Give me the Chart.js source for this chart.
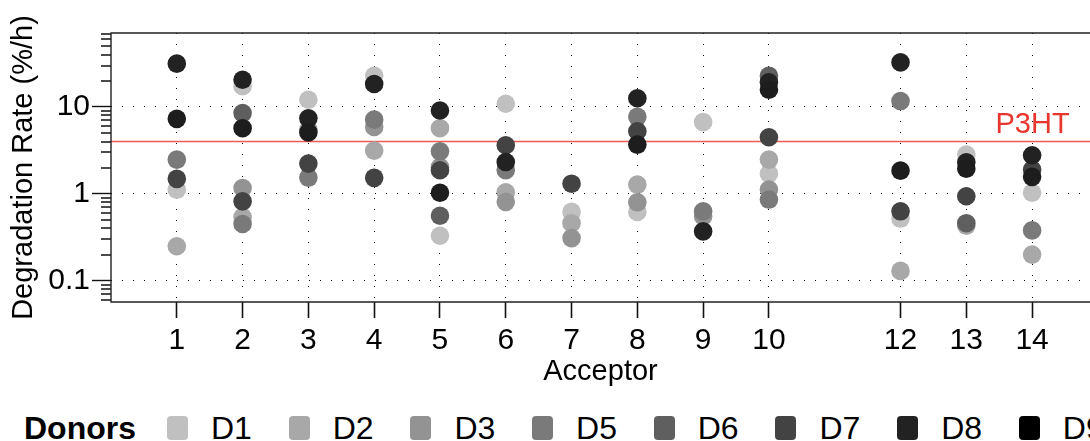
<!DOCTYPE html>
<html>
<head>
<meta charset="utf-8">
<script src="https://cdn.jsdelivr.net/npm/chart.js@4/dist/chart.umd.min.js"></script>
<style>
    html, body { margin: 0; padding: 0; background: #fff; overflow: hidden; }
    #wrap { position: relative; width: 1090px; height: 441px; overflow: hidden; }
    #chart-degradation { position: absolute; left: 0; top: 0; }
    #legend {
        position: absolute; left: 0; top: 410px; height: 36px; width: 1200px;
        font-family: 'Liberation Sans', Arial, sans-serif; font-size: 32px; color: #000;
        white-space: nowrap; display: flex; align-items: center;
    }
    #legend .legend-title { font-weight: 700; width: 167px; padding-left: 24px; box-sizing: border-box; }
    #legend .legend-item { width: 121.7px; display: flex; align-items: center; flex: none; }
    #legend .legend-item i { display: inline-block; width: 21px; height: 24px; border-radius: 4px; margin-right: 23px; }
</style>
</head>
<body>
<div id="wrap">
    <canvas id="chart-degradation" width="1090" height="395"></canvas>
    <div id="legend"></div>
</div>
<script>
/* ============================================================
   DATA — degradation rate (%/h) per acceptor, one array per donor
   null = combination not measured
   ============================================================ */
const ACCEPTORS = [1, 2, 3, 4, 5, 6, 7, 8, 9, 10, 12, 13, 14];
const DONORS = ['D1', 'D2', 'D3', 'D5', 'D6', 'D7', 'D8', 'D9'];

const RATE_D1 = [1.12, 17.3, 12.1, 22.9, 0.33, 10.9, 0.62, 0.62, 6.7, 1.71, 0.52, 2.83, 1.03];
const RATE_D2 = [0.25, 0.54, 5.5, 3.15, 5.7, 1.04, 0.46, 1.28, null, 2.48, 0.13, 0.43, 0.20];
const RATE_D3 = [null, 1.17, null, 5.9, 2.03, 0.81, 0.31, 0.80, 0.55, 1.12, null, null, null];
const RATE_D5 = [2.48, 0.45, 1.54, 7.15, 3.09, 1.87, null, 7.7, 0.63, 0.86, 11.7, null, 0.38];
const RATE_D6 = [null, 8.5, null, null, 0.56, null, null, null, null, 22.9, null, 0.46, null];
const RATE_D7 = [1.49, 0.82, 2.23, 1.53, 1.87, 3.63, 1.31, 5.25, null, 4.48, 0.63, 0.94, 1.90];
const RATE_D8 = [31.5, 20.6, 7.4, 18.4, 9.1, 2.33, null, 12.6, 0.37, 19.2, 32.6, 2.31, 2.78];
const RATE_D9 = [7.3, 5.7, 5.1, null, 1.03, null, null, 3.69, null, 15.8, 1.85, 1.95, 1.57];

const RATES = [RATE_D1, RATE_D2, RATE_D3, RATE_D5, RATE_D6, RATE_D7, RATE_D8, RATE_D9];

// reference polymer
const P3HT = 4.0;

// y axis: labelled decades + minor ticks
const Y_LABELS = [0.1, 1, 10];
const Y_MANTISSAS = [1, 2, 3, 4, 5, 6, 7, 8, 9];
const Y_DECADES = [0.01, 0.1, 1, 10];

/* ============================================================
   STYLE
   ============================================================ */
const SWATCH = ['#c0c0c0', '#a8a8a8', '#939393', '#7a7a7a', '#5f5f5f', '#434343', '#222222', '#000000'];
const POINT = ['#c0c0c0', '#a8a8a8', '#939393', '#7a7a7a', '#5f5f5f', '#434343', '#222222', '#1d1d1d'];
const RED_LINE = '#ef5b57';
const RED_TEXT = '#e8352e';
const FONT = "'Liberation Sans', Arial, sans-serif";

const X_MIN = 0, X_MAX = 14.88;
const Y_MIN = 0.057, Y_MAX = 71;

const isLabelled = v => Y_LABELS.some(l => Math.abs(v - l) < l * 1e-6);

/* ============================================================
   DATASETS
   ============================================================ */
const datasets = DONORS.map((name, i) => ({
    label: name,
    data: ACCEPTORS
        .map((a, j) => ({ x: a, y: RATES[i][j] }))
        .filter(p => p.y !== null),
    backgroundColor: POINT[i],
    borderWidth: 0,
    pointRadius: 9.3,
    pointHoverRadius: 9.3,
    order: 10 - i, // darker donors on top
}));

datasets.push({
    label: 'P3HT',
    data: [{ x: X_MIN, y: P3HT }, { x: X_MAX, y: P3HT }],
    showLine: true,
    borderColor: RED_LINE,
    borderWidth: 1.5,
    pointRadius: 0,
    order: 50,
});

/* ============================================================
   PLUGINS — frame round the plot + P3HT label
   ============================================================ */
const framePlugin = {
    id: 'frame',
    afterDraw(chart) {
        const { ctx, chartArea: a } = chart;
        ctx.save();
        ctx.strokeStyle = '#222';
        ctx.lineWidth = 1.4;
        ctx.beginPath();
        ctx.moveTo(a.right + 2, a.top);
        ctx.lineTo(a.left, a.top);
        ctx.lineTo(a.left, a.bottom);
        ctx.lineTo(a.right + 2, a.bottom);
        ctx.stroke();
        ctx.restore();
    }
};

const p3htLabel = {
    id: 'p3htLabel',
    afterDatasetsDraw(chart) {
        const { ctx, scales } = chart;
        ctx.save();
        ctx.fillStyle = RED_TEXT;
        ctx.font = `29px ${FONT}`;
        ctx.textAlign = 'right';
        ctx.textBaseline = 'alphabetic';
        ctx.fillText('P3HT', scales.x.getPixelForValue(14.57), scales.y.getPixelForValue(P3HT) - 9);
        ctx.restore();
    }
};

/* ============================================================
   CHART
   ============================================================ */
new Chart(document.getElementById('chart-degradation'), {
    type: 'scatter',
    data: { datasets },
    options: {
        responsive: false,
        animation: false,
        events: [],
        layout: { autoPadding: false, padding: { top: 33, left: 0, right: 0, bottom: 0 } },
        plugins: { legend: { display: false }, tooltip: { enabled: false } },
        scales: {
            x: {
                type: 'linear',
                min: X_MIN,
                max: X_MAX,
                afterBuildTicks: s => { s.ticks = ACCEPTORS.map(v => ({ value: v })); },
                afterFit: s => { s.height = 93; },
                border: { display: false, dash: [1, 10] },
                grid: {
                    color: '#000',
                    lineWidth: 1,
                    tickLength: 16,
                    tickColor: '#111',
                    tickWidth: 1.6,
                    tickBorderDash: [],
                },
                ticks: {
                    autoSkip: false,
                    maxRotation: 0,
                    padding: 5,
                    color: '#000',
                    font: { family: FONT, size: 30 },
                    callback: v => String(v),
                },
                title: {
                    display: true,
                    text: 'Acceptor',
                    color: '#000',
                    font: { family: FONT, size: 29 },
                    padding: { top: 0, bottom: 6 },
                },
            },
            y: {
                type: 'logarithmic',
                position: 'left',
                min: Y_MIN,
                max: Y_MAX,
                afterBuildTicks: s => {
                    const t = [];
                    Y_DECADES.forEach(d => Y_MANTISSAS.forEach(m => {
                        const v = Number((m * d).toPrecision(3));
                        if (v >= Y_MIN && v <= Y_MAX) t.push({ value: v });
                    }));
                    s.ticks = t;
                },
                afterFit: s => { s.width = 111; },
                border: { display: false, dash: [1, 10] },
                grid: {
                    color: '#000',
                    lineWidth: c => (c.tick && isLabelled(c.tick.value) ? 1 : 0),
                    tickLength: 19,
                    tickColor: '#111',
                    tickWidth: 1.4,
                    tickBorderDash: c => (c.tick && isLabelled(c.tick.value) ? [] : [0, 9, 12, 0]),
                },
                ticks: {
                    autoSkip: false,
                    padding: 2,
                    color: '#000',
                    font: { family: FONT, size: 30 },
                    callback: v => (isLabelled(v) ? String(v) : ''),
                },
                title: {
                    display: true,
                    text: 'Degradation Rate (%/h)',
                    color: '#000',
                    font: { family: FONT, size: 29 },
                    padding: { top: 7, bottom: 0 },
                },
            },
        },
    },
    plugins: [framePlugin, p3htLabel],
});

/* ============================================================
   LEGEND (HTML)
   ============================================================ */
const legend = document.getElementById('legend');
legend.innerHTML = '<span class="legend-title">Donors</span>' +
    DONORS.map((name, i) =>
        `<span class="legend-item"><i style="background:${SWATCH[i]}"></i>${name}</span>`
    ).join('');
</script>
</body>
</html>
